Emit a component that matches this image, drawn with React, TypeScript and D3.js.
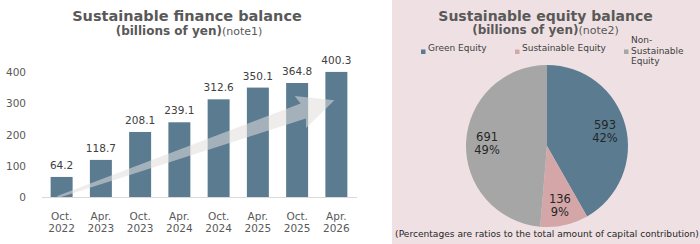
import React from "react";
import * as d3 from "d3";

// bar chart data
const periods = ["Oct.", "Apr.", "Oct.", "Apr.", "Oct.", "Apr.", "Oct.", "Apr."];
const years = ["2022", "2023", "2023", "2024", "2024", "2025", "2025", "2026"];
const balances = [64.2, 118.7, 208.1, 239.1, 312.6, 350.1, 364.8, 400.3];
const yTicks = [0, 100, 200, 300, 400];

// pie chart data
const equityNames = ["Green Equity", "Sustainable Equity", "Non-Sustainable Equity"];
const equityValues = [593, 136, 691];
const equityShares = [42, 9, 49];

const FONT = "'DejaVu Sans', Verdana, sans-serif";
const BAR = "#5b7b90";
const pieColors = [BAR, "#d4a6a8", "#a6a6a6"];

const W = 700;
const H = 244;

const App: React.FC = () => {
  // bar scales
  const labels = periods.map((p, i) => p + " " + years[i]);
  const x = d3.scaleBand<string>().domain(labels).range([42, 356]).paddingInner(0.44).paddingOuter(0.22);
  const y = d3.scaleLinear().domain([0, 400]).range([197, 72]);

  // decorative trend arrow, from first bar foot up towards the last bar
  const x0 = (x(labels[0]) as number) + x.bandwidth() / 2 - 4;
  const y0 = y(0);
  const x1 = (x(labels[7]) as number) + x.bandwidth() / 2 - 2;
  const y1 = y(310);
  const len = Math.hypot(x1 - x0, y1 - y0);
  const ang = (Math.atan2(y1 - y0, x1 - x0) * 180) / Math.PI;
  const headLen = 33;
  const arrowPath = d3.path();
  arrowPath.moveTo(0, -1);
  arrowPath.lineTo(len - headLen, -8);
  arrowPath.lineTo(len - headLen - 3, -17);
  arrowPath.lineTo(len, 0);
  arrowPath.lineTo(len - headLen - 3, 17);
  arrowPath.lineTo(len - headLen, 8);
  arrowPath.lineTo(0, 1);
  arrowPath.closePath();

  // pie
  const cx = 547;
  const cy = 146;
  const r = 81;
  const pie = d3.pie<number>().sort(null).value(d => d);
  const arcs = pie(equityValues);
  const arc = d3.arc<d3.PieArcDatum<number>>().innerRadius(0).outerRadius(r);
  const labelArc = d3.arc<d3.PieArcDatum<number>>().innerRadius(60).outerRadius(60);

  // legend layout
  const legendX = [421, 515, 624];

  return (
    <svg
      width={W}
      height={H}
      viewBox={`0 0 ${W} ${H}`}
      style={{ position: "absolute", left: 0, top: 0, fontFamily: FONT }}
    >
      <rect x={0} y={0} width={W} height={H} fill="#ffffff" />

      {/* left: finance balance bars */}
      <g>
        <text x={187} y={20.5} textAnchor="middle" fontSize={14.5} fontWeight="bold" fill="#595959">
          Sustainable finance balance
        </text>
        <text x={189} y={34.5} textAnchor="middle" fill="#595959">
          <tspan fontSize={12} fontWeight="bold">(billions of yen)</tspan>
          <tspan fontSize={11}>(note1)</tspan>
        </text>

        {yTicks.map(t => (
          <text key={t} x={26} y={y(t) + 4} textAnchor="end" fontSize={10.5} fill="#595959">
            {t}
          </text>
        ))}

        {balances.map((v, i) => (
          <rect key={i} x={x(labels[i])} y={y(v)} width={x.bandwidth()} height={y(0) - y(v)} fill={BAR} />
        ))}

        <line x1={42} x2={357} y1={y(0) + 0.5} y2={y(0) + 0.5} stroke="#d9d9d9" strokeWidth={1} />

        <path
          d={arrowPath.toString()}
          transform={`translate(${x0},${y0}) rotate(${ang})`}
          fill="#e1dfdd"
          fillOpacity={0.55}
        />

        {balances.map((v, i) => (
          <text
            key={i}
            x={(x(labels[i]) as number) + x.bandwidth() / 2}
            y={y(v) - 8}
            textAnchor="middle"
            fontSize={10.5}
            fill="#404040"
          >
            {v.toFixed(1)}
          </text>
        ))}

        {labels.map((l, i) => {
          const cxBar = (x(l) as number) + x.bandwidth() / 2;
          return (
            <text key={l} x={cxBar} textAnchor="middle" fontSize={10.5} fill="#595959">
              <tspan x={cxBar} y={220}>{periods[i]}</tspan>
              <tspan x={cxBar} y={232}>{years[i]}</tspan>
            </text>
          );
        })}
      </g>

      {/* right: equity balance pie */}
      <g>
        <rect x={392} y={0} width={W - 392} height={H} fill="#efe1e3" />
        <text x={545.5} y={20.5} textAnchor="middle" fontSize={14} fontWeight="bold" fill="#595959">
          Sustainable equity balance
        </text>
        <text x={545.5} y={34} textAnchor="middle" fill="#595959">
          <tspan fontSize={12} fontWeight="bold">(billions of yen)</tspan>
          <tspan fontSize={11}>(note2)</tspan>
        </text>

        {equityNames.map((n, i) => {
          const lines = i === 2 ? ["Non-", "Sustainable", "Equity"] : [n];
          const top = i === 2 ? 43 : 51;
          return (
            <g key={n}>
              <rect x={legendX[i]} y={49.5} width={4.5} height={4.5} fill={pieColors[i]} />
              <text fontSize={9} fill="#404040">
                {lines.map((ln, k) => (
                  <tspan key={k} x={legendX[i] + 7} y={top + k * 10.5}>
                    {ln}
                  </tspan>
                ))}
              </text>
            </g>
          );
        })}

        <g transform={`translate(${cx},${cy})`}>
          {arcs.map((a, i) => (
            <path key={i} d={arc(a) as string} fill={pieColors[i]} />
          ))}
          {arcs.map((a, i) => {
            const [lx, ly] = labelArc.centroid(a);
            return (
              <text key={i} textAnchor="middle" fontSize={11.5} fill="#262626">
                <tspan x={lx} y={ly - 2}>{equityValues[i]}</tspan>
                <tspan x={lx} y={ly + 11}>{equityShares[i]}%</tspan>
              </text>
            );
          })}
        </g>

        <text x={547} y={236.5} textAnchor="middle" fontSize={9.1} fill="#262626">
          (Percentages are ratios to the total amount of capital contribution)
        </text>
      </g>
    </svg>
  );
};

export default App;
